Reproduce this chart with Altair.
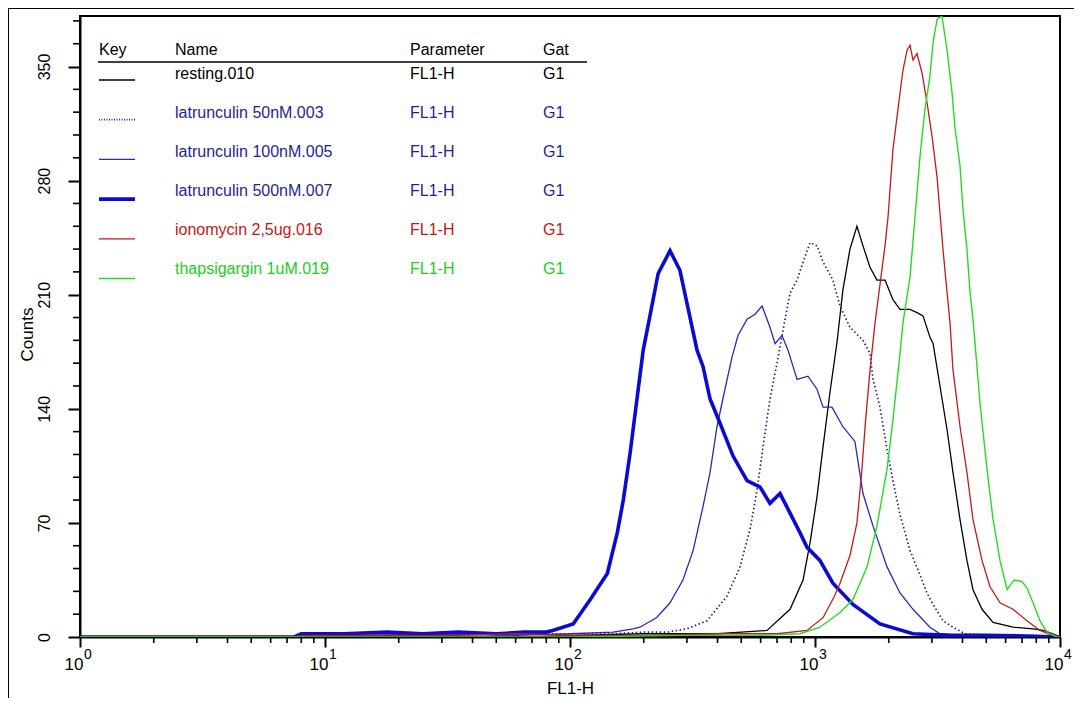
import altair as alt
import pandas as pd

FONT = "Liberation Sans"

# ---------------- legend content ----------------
names = ["resting.010", "latrunculin 50nM.003", "latrunculin 100nM.005",
         "latrunculin 500nM.007", "ionomycin 2,5ug.016", "thapsigargin 1uM.019"]
params = ["FL1-H", "FL1-H", "FL1-H", "FL1-H", "FL1-H", "FL1-H"]
gates = ["G1", "G1", "G1", "G1", "G1", "G1"]
header = ["Key", "Name", "Parameter", "Gat"]

line_colors = ["#000000", "#23238c", "#2a2ab0", "#0a0ad2", "#c41a1a", "#22dd22"]
text_colors = ["#000000", "#1f1f96", "#1f1f96", "#1f1f96", "#c01818", "#22cc22"]

# ---------------- axis ticks ----------------
decades = [1, 10, 100, 1000, 10000]
exponents = ["0", "1", "2", "3", "4"]
x_minor = [2, 3, 4, 5, 6, 7, 8, 9, 20, 30, 40, 50, 60, 70, 80, 90,
           200, 300, 400, 500, 600, 700, 800, 900,
           2000, 3000, 4000, 5000, 6000, 7000, 8000, 9000]
y_major = [0, 70, 140, 210, 280, 350]
y_minor = [14, 28, 42, 56, 84, 98, 112, 126, 154, 168, 182, 196,
           224, 238, 252, 266, 294, 308, 322, 336, 364, 378]

# ---------------- histogram series (FL1-H value, counts) ----------------
resting_x = [1, 7.5, 8, 15, 30, 60, 100, 200, 300, 400, 500, 637, 791, 894, 955,
             1019, 1079, 1151, 1230, 1300, 1389, 1483, 1570, 1675, 1790, 1931,
             2080, 2223, 2443, 2608, 2760, 2945, 3034, 3237, 3461, 3657, 3908,
             4170, 4415, 4805, 5331, 6428, 7762, 8530, 9353, 10000]
resting_y = [0, 0, 1, 1, 1, 2, 1, 2, 2, 2, 3, 4, 17, 35, 58,
             86, 117, 150, 181, 213, 238, 252, 240, 227, 219, 219,
             207, 201, 201, 199, 197, 184, 180, 154, 127, 101, 72,
             47, 29, 17, 9, 6, 5, 4, 2, 0]

lat50_x = [1, 7.5, 8, 15, 30, 60, 100, 150, 200, 250, 300, 363, 437, 494, 543,
           580, 614, 655, 700, 740, 791, 845, 894, 955, 1019, 1079, 1183,
           1265, 1389, 1570, 1675, 1726, 1841, 1968, 2080, 2223, 2443, 2684,
           2865, 3034, 3329, 3657, 4100, 6000, 10000]
lat50_y = [0, 0, 1, 1, 1, 2, 2, 2, 3, 3, 5, 10, 25, 43, 66,
           90, 117, 146, 168, 188, 211, 219, 230, 242, 240, 230, 219,
           203, 190, 182, 174, 158, 141, 115, 96, 75, 53, 38,
           27, 20, 10, 6, 2, 0.5, 0]

lat100_x = [1, 7.5, 8, 15, 30, 60, 100, 150, 181, 193, 226, 256, 289, 318, 349,
            373, 398, 429, 459, 485, 528, 569, 608, 655, 687, 733, 776, 845,
            936, 1019, 1079, 1173, 1300, 1455, 1570, 1726, 1968, 2223, 2512,
            2945, 3237, 4000, 6000, 10000]
lat100_y = [0, 0, 1, 1, 2, 1, 2, 3, 5, 6, 12, 21, 35, 53, 80,
            101, 129, 152, 172, 185, 195, 198, 203, 190, 180, 185, 176, 158,
            160, 152, 141, 141, 129, 120, 88, 68, 43, 27, 17,
            6, 2, 1, 0.5, 0]

lat500_x = [1, 7.5, 8, 12, 18, 25, 35, 50, 65, 80, 85, 103, 121, 142, 156, 165,
            176, 188, 199, 212, 229, 256, 281, 300, 330, 349, 373, 410, 463,
            528, 597, 655, 720, 791, 868, 928, 1047, 1183, 1428, 1841, 2512,
            3500, 5000, 8000, 10000]
lat500_y = [0, 0, 2, 2, 3, 2, 3, 2, 3, 3, 4, 8, 23, 39, 64, 84,
            113, 147, 176, 197, 223, 237, 225, 205, 176, 166, 146, 131, 111,
            96, 92, 82, 88, 76, 64, 55, 47, 33, 20, 8, 2,
            1, 1, 0.5, 0]

iono_x = [1, 7.5, 8, 15, 30, 60, 100, 200, 400, 700, 928, 1080, 1200, 1265,
          1389, 1483, 1549, 1603, 1675, 1759, 1841, 1931, 1987, 2080, 2182,
          2287, 2376, 2443, 2512, 2608, 2735, 2865, 3005, 3150, 3237, 3329,
          3461, 3556, 3657, 3908, 4170, 4415, 4805, 5176, 5689, 6428, 7331,
          8279, 9353, 10000]
iono_y = [0, 0, 1, 1, 1, 2, 1, 1, 2, 2, 4, 12, 25, 33,
          50, 70, 100, 130, 163, 193, 216, 240, 258, 299, 324,
          348, 360, 363, 354, 358, 346, 328, 307, 282, 260, 238,
          211, 193, 164, 129, 101, 72, 47, 31, 21, 17, 10,
          4, 1, 0]

thaps_x = [1, 100, 300, 600, 868, 1047, 1265, 1428, 1630, 1790, 1968, 2080,
           2223, 2287, 2443, 2560, 2684, 2812, 2945, 3034, 3150, 3296, 3461,
           3624, 3724, 3908, 4018, 4170, 4295, 4415, 4711, 5035, 5331, 5689,
           6082, 6500, 7000, 7331, 7762, 8279, 8851, 9727, 10000]
thaps_y = [0, 0, 1, 1, 2, 6, 15, 23, 43, 68, 103, 133,
           174, 193, 221, 258, 295, 324, 344, 365, 379, 381, 360,
           334, 313, 289, 262, 238, 211, 195, 144, 103, 72, 47,
           29, 35, 34, 30, 21, 10, 3, 0, 0]

series_x = [resting_x, lat50_x, lat100_x, lat500_x, iono_x, thaps_x]
series_y = [resting_y, lat50_y, lat100_y, lat500_y, iono_y, thaps_y]
stroke_widths = [1.3, 1.7, 1.3, 3.6, 1.3, 1.4]
stroke_dashes = [None, [1.5, 2.5], None, None, None, None]

# ---------------- geometry (pixels) ----------------
W, H = 980, 621
xscale = alt.Scale(type="log", domain=[1, 10000], nice=False)
yscale = alt.Scale(domain=[0, 381], nice=False, zero=False)

xaxis = alt.Axis(
    values=decades, labels=False, tickSize=10, tickWidth=2, tickColor="black",
    domainWidth=2, domainColor="black", grid=False,
    title="FL1-H", titleFont=FONT, titleFontSize=17, titleFontWeight="normal",
    titleColor="black", titleY=51, titleBaseline="middle")
yaxis = alt.Axis(
    values=y_major, tickSize=12, tickWidth=2, tickColor="black",
    domainWidth=2, domainColor="black", grid=False,
    labelAngle=-90, labelAlign="center", labelBaseline="bottom",
    labelPadding=16, labelFont=FONT, labelFontSize=16, labelColor="black",
    title="Counts", titleFont=FONT, titleFontSize=17, titleFontWeight="normal",
    titleColor="black", titleAngle=-90, titleX=-44, titleY=318,
    titleAlign="center", titleBaseline="bottom")

layers = []

# outer frame (left and top edges of the figure)
frame = pd.DataFrame({"d": [0]})
layers.append(alt.Chart(frame).mark_rule(color="black", strokeWidth=2).encode(
    x=alt.value(-72), y=alt.value(-8), y2=alt.value(700)))
layers.append(alt.Chart(frame).mark_rule(color="black", strokeWidth=2).encode(
    x=alt.value(-72), x2=alt.value(1000), y=alt.value(-8)))

# histogram lines (carry the axes)
for i in range(6):
    df = pd.DataFrame({"fl": series_x[i], "count": series_y[i]})
    kw = dict(color=line_colors[i], strokeWidth=stroke_widths[i], clip=True)
    if stroke_dashes[i] is not None:
        kw["strokeDash"] = stroke_dashes[i]
    layers.append(alt.Chart(df).mark_line(**kw).encode(
        x=alt.X("fl:Q", scale=xscale, axis=xaxis),
        y=alt.Y("count:Q", scale=yscale, axis=yaxis)))

# minor ticks
layers.append(alt.Chart(pd.DataFrame({"fl": x_minor})).mark_rule(
    color="black", strokeWidth=1.6).encode(
    x=alt.X("fl:Q", scale=xscale, axis=xaxis), y=alt.value(H), y2=alt.value(H + 6)))
layers.append(alt.Chart(pd.DataFrame({"count": y_minor})).mark_rule(
    color="black", strokeWidth=1.6).encode(
    y=alt.Y("count:Q", scale=yscale, axis=yaxis), x=alt.value(-7), x2=alt.value(0)))

# x tick labels "10^n"
dec_df = pd.DataFrame({"fl": decades, "e": exponents, "b": ["10"] * len(decades)})
layers.append(alt.Chart(dec_df).mark_text(
    align="center", baseline="middle", dx=-6, font=FONT, fontSize=17, color="black").encode(
    x=alt.X("fl:Q", scale=xscale, axis=xaxis), y=alt.value(H + 28), text="b:N"))
layers.append(alt.Chart(dec_df).mark_text(
    align="left", baseline="middle", dx=4, font=FONT, fontSize=14, color="black").encode(
    x=alt.X("fl:Q", scale=xscale, axis=xaxis), y=alt.value(H + 18), text="e:N"))

# legend header + underline
col_x = [19, 95, 330, 463]
for t, xx in zip(header, col_x):
    layers.append(alt.Chart(pd.DataFrame({"t": [t]})).mark_text(
        align="left", baseline="middle", font=FONT, fontSize=16, color="black").encode(
        x=alt.value(xx), y=alt.value(34), text="t:N"))
layers.append(alt.Chart(frame).mark_rule(color="black", strokeWidth=1.5).encode(
    x=alt.value(18), x2=alt.value(507), y=alt.value(46)))

# legend rows
leg = pd.DataFrame({"name": names, "param": params, "gate": gates,
                    "tc": text_colors, "row": list(range(6))})
for field, xx in [("name", 95), ("param", 330), ("gate", 463)]:
    layers.append(alt.Chart(leg).transform_calculate(ly="58 + 39 * datum.row").mark_text(
        align="left", baseline="middle", font=FONT, fontSize=16).encode(
        x=alt.value(xx), y=alt.Y("ly:Q", scale=None, axis=None),
        text=f"{field}:N", color=alt.Color("tc:N", scale=None)))

for i in range(6):
    kw = dict(color=line_colors[i], strokeWidth=stroke_widths[i])
    if stroke_dashes[i] is not None:
        kw["strokeDash"] = [1, 1.5]
    layers.append(alt.Chart(frame).mark_rule(**kw).encode(
        x=alt.value(19), x2=alt.value(55), y=alt.value(64 + 39.7 * i)))

chart = alt.layer(*layers).properties(
    width=W, height=H,
    padding={"left": 72, "top": 8, "right": 14, "bottom": 61},
    autosize=alt.AutoSizeParams(type="none"),
    background="white",
).configure_view(stroke="black", strokeWidth=2)

chart.save("out.html", embed_options={"renderer": "svg", "actions": False})
